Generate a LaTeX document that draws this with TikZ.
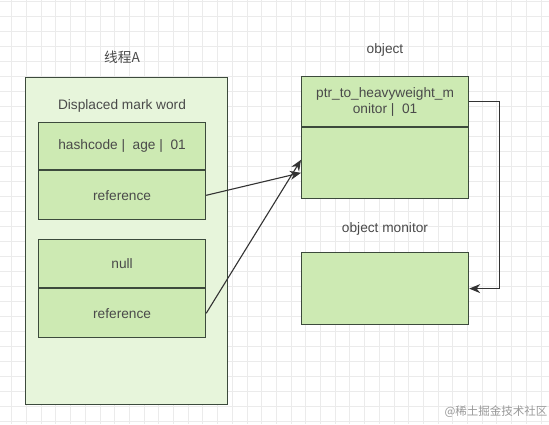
\documentclass[tikz,border=0pt]{standalone}
\usepackage{fontspec}
\setmainfont{Liberation Sans}
\newfontfamily\cjk{Noto Sans CJK SC}
\usetikzlibrary{positioning,shapes,fit,calc,arrows.meta}
\definecolor{gridGray}{HTML}{EBEBEB}
\definecolor{paleGreen}{HTML}{E7F5DB}
\definecolor{cellGreen}{HTML}{CDEAB3}
\definecolor{edgeGray}{HTML}{3C4A3C}
\definecolor{txtGray}{HTML}{4A4A4A}

\begin{document}
\begin{tikzpicture}[x=1pt,y=-1pt,font=\fontsize{13.7}{16}\selectfont,
    cell/.style={draw=edgeGray,fill=cellGreen,line width=1.2pt,minimum width=167pt,inner sep=0pt,text=txtGray},
    lbl/.style={text=txtGray},
    link/.style={draw=black!80,line width=1.1pt,-{Stealth[length=11pt,width=9pt]}}]
        \useasboundingbox[fill=white](0,0)rectangle(549,424);
        \foreach \x in {11.7,26.4,...,549}\draw[gridGray,line width=0.8pt](\x,0)--(\x,424);
        \foreach \y in {1.7,16.7,...,424}\draw[gridGray,line width=0.8pt](0,\y)--(549,\y);

        % thread stack
        \node[draw=edgeGray,fill=paleGreen,line width=1.2pt,minimum width=202pt,minimum height=327pt,anchor=north west](thread)at(25,77){};
        \node[lbl](threadLbl)at(122,57){\cjk 线程A};
        \node[lbl](dmwLbl)at(122,106){Displaced mark word};
        \node[cell,minimum height=47pt,anchor=north west](hashRow)at(38,122){hashcode |\ \ age |\ \ 01};
        \node[cell,minimum height=49pt,below=0pt of hashRow](refA){reference};
        \node[cell,minimum height=48pt,anchor=north west](nullRow)at(38,239){null};
        \node[cell,minimum height=49pt,below=0pt of nullRow](refB){reference};

        % object and monitor
        \node[lbl](objLbl)at(385,50){object};
        \node[cell,minimum height=50pt,align=center,anchor=north west](objHead)at(301,76){ptr\_to\_heavyweight\_m\\onitor |\ \ 01};
        \node[cell,minimum height=71pt,below=0pt of objHead](objBody){};
        \node[lbl](monLbl)at(385,229){object monitor};
        \node[cell,minimum height=72pt,anchor=north west](monitor)at(301,252){};

        \coordinate(inA)at($(objBody.west)+(0,9.5)$);
        \coordinate(inB)at($(objBody.west)+(0,-3.5)$);
        \draw[link](refA.east)--(inA);
        \draw[link](refB.east)--(inB);
        \draw[link](objHead.east)--++(30,0)|-(monitor.east);

        \node[text=black!40,font=\cjk\fontsize{11.5}{13}\selectfont](mark)at(496,412){@稀土掘金技术社区};
    \end{tikzpicture}
\end{document}
